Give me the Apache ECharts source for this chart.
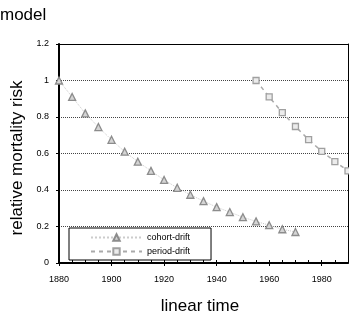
<!DOCTYPE html>
<html>
<head>
<meta charset="utf-8">
<script src="https://cdn.jsdelivr.net/npm/echarts@6/dist/echarts.min.js"></script>
<style>
html,body{margin:0;padding:0;background:#fff;}
#chart{width:349px;height:320px;}
</style>
</head>
<body>
<div id="chart"></div>
<script>
var cohortYears = [1880,1885,1890,1895,1900,1905,1910,1915,1920,1925,1930,1935,1940,1945,1950,1955,1960,1965,1970];
var cohortValues = [1.00,0.91,0.82,0.745,0.675,0.61,0.555,0.505,0.455,0.412,0.374,0.339,0.306,0.279,0.251,0.228,0.207,0.185,0.17];
var periodYears = [1955,1960,1965,1970,1975,1980,1985,1990];
var periodValues = [1.00,0.91,0.824,0.748,0.676,0.612,0.556,0.505];
var xTickLabels = [1880,1900,1920,1940,1960,1980];
var yTickLabels = [0,0.2,0.4,0.6,0.8,1,1.2];
var seriesNames = ['cohort-drift','period-drift'];

var FONT = '"Liberation Sans", Arial, sans-serif';
function pairs(xs, ys){ return xs.map(function(x,i){ return [x, ys[i]]; }); }

var chart = echarts.init(document.getElementById('chart'), null, {renderer:'canvas'});
chart.setOption({
  animation:false,
  backgroundColor:'#fff',
  textStyle:{fontFamily:FONT},
  grid:{left:59, right:1, top:44, bottom:57, containLabel:false},
  graphic:[
    {type:'text', left:0, top:7, style:{text:'model', font:'17px '+FONT, fill:'#000'}},
    {type:'text', x:17, y:158, rotation:Math.PI/2, style:{text:'relative mortality risk', font:'17px '+FONT, fill:'#000', align:'center', verticalAlign:'middle'}},
    {type:'text', x:200, y:306, style:{text:'linear time', font:'17px '+FONT, fill:'#000', align:'center', verticalAlign:'middle'}}
  ],
  legend:{
    orient:'vertical', left:69, top:228,
    padding:[5,21,4,21], itemGap:5, itemWidth:51, itemHeight:8, itemTextGap:2,
    backgroundColor:'#fff', borderColor:'#000', borderWidth:1, borderRadius:0,
    textStyle:{fontSize:9, color:'#000', fontFamily:FONT},
    data:seriesNames
  },
  xAxis:[
    {type:'value', min:xTickLabels[0], max:1990, interval:20, position:'bottom',
     axisLine:{show:true, lineStyle:{color:'#000', width:2}},
     axisTick:{show:true, inside:false, length:3, lineStyle:{color:'#000'}},
     axisLabel:{fontSize:9, color:'#000', margin:12, showMaxLabel:false, fontFamily:FONT,
       formatter:function(v){ return String(v); }},
     splitLine:{show:false}},
    {type:'value', min:xTickLabels[0], max:1990, interval:20, position:'bottom',
     axisLine:{show:false},
     axisTick:{show:true, inside:true, length:3, lineStyle:{color:'#000'}},
     minorTick:{show:true, splitNumber:4, length:3, lineStyle:{color:'#000'}},
     axisLabel:{show:false}, splitLine:{show:false}},
    {type:'value', min:xTickLabels[0], max:1990, position:'top',
     axisLine:{show:true, lineStyle:{color:'#000', width:1}},
     axisTick:{show:false}, axisLabel:{show:false}, splitLine:{show:false}}
  ],
  yAxis:[
    {type:'value', min:0, max:1.2, interval:0.2, position:'left',
     axisLine:{show:true, lineStyle:{color:'#000', width:2}},
     axisTick:{show:true, inside:false, length:3, lineStyle:{color:'#000'}},
     axisLabel:{fontSize:9, color:'#000', margin:10, fontFamily:FONT,
       formatter:function(v){ return String(Math.round(v*10)/10); }},
     splitLine:{show:true, lineStyle:{color:'#444', type:'dotted', width:1}}},
    {type:'value', min:0, max:1.2, position:'right',
     axisLine:{show:true, lineStyle:{color:'#000', width:1}},
     axisTick:{show:false}, axisLabel:{show:false}, splitLine:{show:false}}
  ],
  series:[
    {name:seriesNames[0], type:'line', xAxisIndex:0, yAxisIndex:0,
     data:pairs(cohortYears, cohortValues),
     symbol:'triangle', symbolSize:7, showAllSymbol:true,
     lineStyle:{color:'#cccccc', width:1, type:'dotted'},
     itemStyle:{color:'#d4d4d4', borderColor:'#8c8c8c', borderWidth:1.3},
     z:3},
    {name:seriesNames[1], type:'line', xAxisIndex:0, yAxisIndex:0,
     data:pairs(periodYears, periodValues),
     symbol:'rect', symbolSize:6, showAllSymbol:true,
     lineStyle:{color:'#aaaaaa', width:1.5, type:[4,4]},
     itemStyle:{color:'#ececec', borderColor:'#a0a0a0', borderWidth:1.3},
     z:3}
  ]
});
</script>
</body>
</html>
